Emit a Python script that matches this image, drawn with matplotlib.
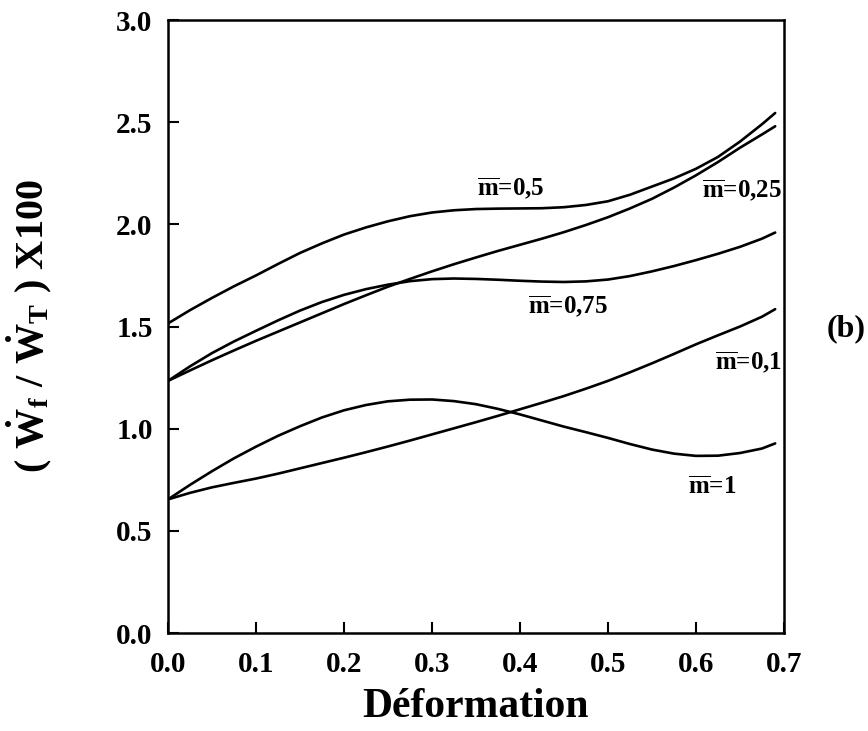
import matplotlib
matplotlib.use("Agg")
import matplotlib.pyplot as plt

plt.rcParams['font.family'] = ['Liberation Serif', 'DejaVu Serif']
plt.rcParams['font.weight'] = 'bold'
plt.rcParams['mathtext.fontset'] = 'custom'
plt.rcParams['mathtext.rm'] = 'Liberation Serif:bold'
plt.rcParams['mathtext.it'] = 'Liberation Serif:bold'
plt.rcParams['mathtext.bf'] = 'Liberation Serif:bold'

# déformation
x = [0.0, 0.025, 0.05, 0.075, 0.1, 0.125, 0.15, 0.175, 0.2, 0.225, 0.25, 0.275, 0.3, 0.325,
     0.35, 0.375, 0.4, 0.425, 0.45, 0.475, 0.5, 0.525, 0.55, 0.575, 0.6, 0.625, 0.65, 0.675, 0.69]

m_05 = [1.515, 1.58, 1.64, 1.697, 1.75, 1.806, 1.86, 1.907, 1.95, 1.985, 2.015, 2.04, 2.058, 2.069,
        2.075, 2.077, 2.078, 2.079, 2.084, 2.095, 2.113, 2.145, 2.185, 2.225, 2.272, 2.33, 2.405, 2.49, 2.545]
m_025 = [1.234, 1.285, 1.335, 1.383, 1.43, 1.475, 1.52, 1.565, 1.61, 1.653, 1.695, 1.733, 1.77, 1.805,
         1.838, 1.87, 1.9, 1.93, 1.962, 1.997, 2.035, 2.078, 2.125, 2.18, 2.24, 2.305, 2.375, 2.44, 2.48]
m_075 = [1.234, 1.305, 1.37, 1.427, 1.479, 1.53, 1.578, 1.62, 1.655, 1.683, 1.705, 1.722, 1.732, 1.735,
         1.733, 1.729, 1.724, 1.72, 1.718, 1.721, 1.73, 1.747, 1.77, 1.796, 1.825, 1.856, 1.89, 1.93, 1.96]
m_01 = [0.654, 0.686, 0.713, 0.735, 0.756, 0.78, 0.806, 0.832, 0.858, 0.885, 0.913, 0.942, 0.972, 1.002,
        1.032, 1.063, 1.095, 1.127, 1.16, 1.196, 1.234, 1.276, 1.32, 1.366, 1.413, 1.457, 1.50, 1.548, 1.585]
m_1 = [0.654, 0.725, 0.792, 0.855, 0.912, 0.965, 1.012, 1.055, 1.09, 1.116, 1.134, 1.142, 1.143, 1.135,
       1.12, 1.097, 1.07, 1.04, 1.01, 0.983, 0.955, 0.925, 0.898, 0.878, 0.867, 0.868, 0.881, 0.903, 0.928]

series = [m_05, m_025, m_075, m_01, m_1]
labels = ['0,5', '0,25', '0,75', '0,1', '1']
label_pos = [(0.389, 2.178), (0.652, 2.167), (0.454, 1.60), (0.66, 1.326), (0.618, 0.714)]

xticks = [0.0, 0.1, 0.2, 0.3, 0.4, 0.5, 0.6, 0.7]
yticks = [0.0, 0.5, 1.0, 1.5, 2.0, 2.5, 3.0]

fig = plt.figure(figsize=(8.68, 7.31), dpi=100)
ax = fig.add_axes([0.1935, 0.134, 0.7097, 0.8386])

for y in series:
    ax.plot(x, y, color='black', lw=1.9, solid_capstyle='round', solid_joinstyle='round')

for lab, (lx, ly) in zip(labels, label_pos):
    ax.text(lx, ly, r'$\overline{\mathrm{m}}$=' + lab, ha='center', va='center',
            fontsize=18, fontweight='bold')

ax.set_xlim(0, 0.7)
ax.set_ylim(0, 3.0)
ax.set_xticks(xticks)
ax.set_yticks(yticks)
ax.set_xticklabels(['%.1f' % v for v in xticks])
ax.set_yticklabels(['%.1f' % v for v in yticks])
ax.tick_params(axis='both', direction='in', length=8, width=1.5, labelsize=21)
ax.tick_params(axis='x', pad=13)
ax.tick_params(axis='y', pad=11)
for s in ax.spines.values():
    s.set_linewidth(1.8)

ax.set_xlabel('Déformation', fontsize=30, fontweight='bold')
ax.xaxis.set_label_coords(0.5, -0.09)
ax.set_ylabel(r'$(\ \dot{W}_{f}\ /\ \dot{W}_{T}\ )$ X100', fontsize=29, fontweight='bold')
ax.yaxis.set_label_coords(-0.185, 0.5)

fig.text(0.975, 0.551, '(b)', ha='center', va='center', fontsize=23, fontweight='bold')

fig.savefig('out.png', dpi=100)
